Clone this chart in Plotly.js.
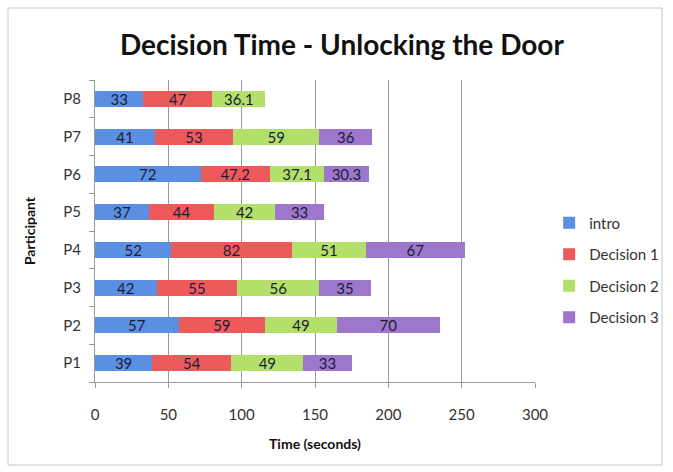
<!DOCTYPE html>
<html>
<head>
<meta charset="utf-8">
<script src="https://cdn.plot.ly/plotly-3.0.1.min.js"></script>
<style>html,body{margin:0;padding:0;background:#fff;}#chart{width:673px;height:472px;}</style>
</head>
<body>
<div id="chart"></div>
<script>
const participants = ["P1","P2","P3","P4","P5","P6","P7","P8"];
const seriesNames = ["intro","Decision 1","Decision 2","Decision 3"];
const intro     = [39, 57, 42, 52, 37, 72, 41, 33];
const decision1 = [54, 59, 55, 82, 44, 47.2, 53, 47];
const decision2 = [49, 49, 56, 51, 42, 37.1, 59, 36.1];
const decision3 = [33, 70, 35, 67, 33, 30.3, 36, null];
const xTicks = [0, 50, 100, 150, 200, 250, 300];

const seriesValues = [intro, decision1, decision2, decision3];
const colors = ["#5a8fe2", "#ec5a5c", "#b2e06a", "#9d77cb"];
const FONT = "Lato, 'Open Sans', sans-serif";

const traces = seriesValues.map((vals, i) => ({
  type: "bar",
  orientation: "h",
  name: seriesNames[i],
  y: participants,
  x: vals,
  text: vals.map(v => v == null ? "" : String(v)),
  textposition: "inside",
  insidetextanchor: "middle",
  textangle: 0,
  constraintext: "none",
  textfont: {family: FONT, size: 15, color: "#1c1c38"},
  marker: {color: colors[i], line: {width: 0}},
  width: 0.42,
  legendgroup: "g" + i,
  hoverinfo: "x+y+name"
}));

const layout = {
  width: 673, height: 472,
  margin: {l: 95, r: 138, t: 80, b: 90, autoexpand: false},
  paper_bgcolor: "#fff", plot_bgcolor: "#fff",
  barmode: "stack",
  font: {family: FONT, color: "#333"},
  title: {text: "<b>Decision Time - Unlocking the Door</b>", font: {family: FONT, size: 28, color: "#111"},
          x: 0.508, xref: "container", xanchor: "center", y: 0.905, yanchor: "middle", yref: "container"},
  xaxis: {
    range: [0, 300], tickvals: xTicks, ticktext: xTicks.map(String),
    showgrid: true, gridcolor: "#9a9a9a", gridwidth: 1,
    showline: true, linecolor: "#9a9a9a", linewidth: 1,
    ticks: "outside", ticklen: 5, tickcolor: "#9a9a9a",
    ticklabelstandoff: 14,
    tickfont: {family: FONT, size: 15, color: "#333"},
    zeroline: false, fixedrange: true, automargin: false,
    title: {text: "<b>Time (seconds)</b>", font: {family: FONT, size: 14, color: "#111"}, standoff: 17}
  },
  yaxis: {
    type: "category", categoryorder: "array", categoryarray: participants,
    showline: true, linecolor: "#9a9a9a", linewidth: 1,
    ticks: "outside", ticklen: 5, tickcolor: "#9a9a9a", tickson: "boundaries",
    ticklabelstandoff: 10,
    tickfont: {family: FONT, size: 15, color: "#333"},
    showgrid: false, zeroline: false, fixedrange: true, automargin: false,
    title: {text: "<b>Participant</b>", font: {family: FONT, size: 14, color: "#111"}, standoff: 24}
  },
  legend: {
    xref: "container", yref: "container",
    x: 0.816, xanchor: "left", y: 0.428, yanchor: "middle",
    traceorder: "grouped", tracegroupgap: 9,
    font: {family: FONT, size: 15, color: "#333"},
    itemwidth: 30, bgcolor: "rgba(0,0,0,0)"
  },
  shapes: [{
    type: "rect", xref: "paper", yref: "paper",
    x0: (8 - 95) / 440, x1: (662 - 95) / 440,
    y0: (382 - 465) / 302, y1: (382 - 8) / 302,
    line: {color: "#c8c8c8", width: 1}, fillcolor: "rgba(0,0,0,0)", layer: "below"
  }]
};

Plotly.newPlot("chart", traces, layout, {displayModeBar: false, staticPlot: true});
</script>
</body>
</html>
